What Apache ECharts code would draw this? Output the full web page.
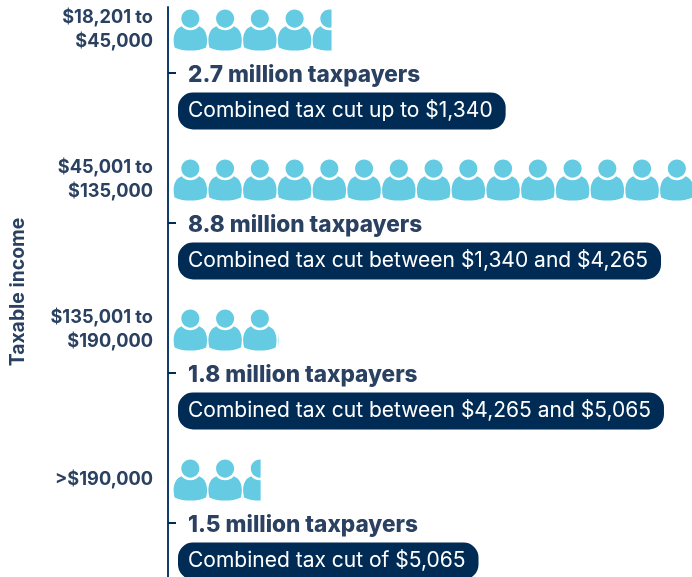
<!DOCTYPE html>
<html><head><meta charset="utf-8">
<style>html,body{margin:0;padding:0;background:#fff}#c{width:692px;height:577px}</style>
<script src="https://cdn.jsdelivr.net/npm/echarts@6/dist/echarts.min.js"></script>
</head><body><div id="c"></div>
<script>
const incomeBands = ['$18,201 to\n$45,000','$45,001 to\n$135,000','$135,001 to\n$190,000','>$190,000'];
const taxpayersMillions = [2.7, 8.8, 1.8, 1.5];
const taxpayerLabels = ['2.7 million taxpayers','8.8 million taxpayers','1.8 million taxpayers','1.5 million taxpayers'];
const taxCutLabels = ['Combined tax cut up to $1,340','Combined tax cut between $1,340 and $4,265','Combined tax cut between $4,265 and $5,065','Combined tax cut of $5,065'];
const axisName = 'Taxable income';

const FONT = 'Inter';
const person = 'path://M50 0C35 0 23 12 23 27C23 42 35 54 50 54C65 54 77 42 77 27C77 12 65 0 50 0ZM24 50C8 56 1 70 0 90C0 98 1 106 3 113C18 120 34 122 50 122C66 122 82 120 97 113C99 106 100 98 100 90C99 70 92 56 76 50C70 58 60 62 50 62C40 62 30 58 24 50Z';
const axisMax = 8.8;

const chart = echarts.init(document.getElementById('c'), null, {renderer:'canvas'});
chart.setOption({
  animation:false,
  grid:[
    {left:172, width:520, top:-45, height:600, outerBoundsMode:'none'},
    {left:168, width:524, top:-2, height:600, outerBoundsMode:'none'},
    {left:168, width:524, top:7, height:570, outerBoundsMode:'none'}
  ],
  xAxis:[0,1,2].map(i=>({type:'value',gridIndex:i,min:0,max:axisMax,show:false})),
  yAxis:[
    {type:'category',gridIndex:0,inverse:true,data:incomeBands,
      axisLine:{show:false},axisTick:{show:false},
      axisLabel:{margin:19,align:'right',padding:[2,0,0,0],fontFamily:FONT,fontWeight:'bold',fontSize:18.2,lineHeight:24,color:'#2b4162'}},
    {type:'category',gridIndex:1,inverse:true,data:taxpayerLabels,
      axisLine:{show:false},
      axisTick:{show:true,inside:true,length:8,alignWithLabel:true,lineStyle:{color:'#002b55',width:2}},
      axisLabel:{show:false}},
    {type:'value',gridIndex:2,name:axisName,nameLocation:'middle',nameGap:140,
      nameTextStyle:{fontFamily:FONT,fontWeight:'bold',fontSize:19.4,color:'#2b4162'},
      axisLine:{show:true,lineStyle:{color:'#0f3d6e',width:2}},
      axisTick:{show:false},axisLabel:{show:false},splitLine:{show:false}}
  ],
  series:[
    {type:'pictorialBar',xAxisIndex:0,yAxisIndex:0,data:taxpayersMillions,
      symbol:person,symbolRepeat:'fixed',symbolClip:true,symbolSize:[33.5,41],symbolMargin:0.7,symbolOffset:[1.6,0],
      symbolBoundingData:axisMax,symbolPosition:'start',itemStyle:{color:'#64cbe2'},silent:true},
    {type:'scatter',xAxisIndex:1,yAxisIndex:1,symbolSize:0,silent:true,itemStyle:{opacity:1},
      data:taxpayerLabels.map((t,i)=>({value:[0,i],name:t})),
      label:{show:true,position:'right',distance:0,offset:[20,2],formatter:p=>p.name,
        fontFamily:FONT,fontWeight:800,fontSize:22.6,color:'#2b4162'}},
    {type:'scatter',xAxisIndex:1,yAxisIndex:1,symbolSize:0,silent:true,itemStyle:{opacity:1},
      data:taxCutLabels.map((t,i)=>({value:[0,i],name:t})),
      label:{show:true,position:'right',distance:0,offset:[10,38],formatter:p=>p.name,
        fontFamily:FONT,fontSize:21,color:'#ffffff',backgroundColor:'#002b55',
        borderRadius:15,padding:[8,13,8,10]}}
  ]
});
</script></body></html>
